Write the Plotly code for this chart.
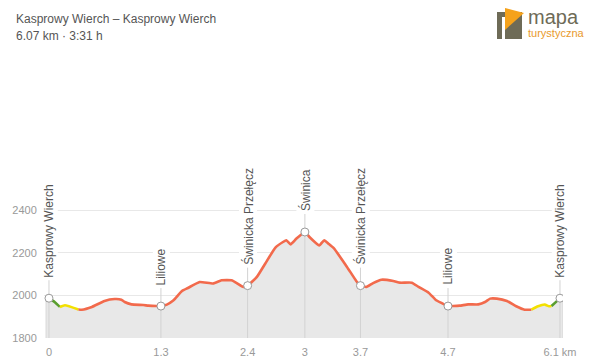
import plotly.graph_objects as go

# ---- data ----
dist = [0.00, 0.07, 0.13, 0.19, 0.35, 0.39, 0.51, 0.66, 0.78, 0.86, 0.90, 0.98, 1.12, 1.18, 1.28, 1.33,
        1.40, 1.48, 1.58, 1.65, 1.79, 1.95, 2.05, 2.17, 2.23, 2.31, 2.36, 2.47, 2.57, 2.69, 2.78,
        2.82, 2.87, 2.94, 3.04, 3.10, 3.21, 3.27, 3.32, 3.38, 3.54, 3.65, 3.70, 3.77, 3.85, 3.95,
        4.09, 4.17, 4.31, 4.39, 4.51, 4.60, 4.70, 4.74, 4.80, 4.88, 4.98, 5.10, 5.18, 5.24, 5.32,
        5.44, 5.55, 5.65, 5.73, 5.81, 5.89, 5.94, 5.97, 6.03, 6.07]
elev = [1987, 1968, 1946, 1954, 1934, 1933, 1946, 1974, 1983, 1980, 1969, 1958, 1955, 1952, 1950, 1950,
        1957, 1977, 2021, 2035, 2063, 2056, 2071, 2071, 2058, 2040, 2046, 2087, 2150, 2225, 2251,
        2259, 2240, 2267, 2298, 2272, 2235, 2259, 2243, 2223, 2134, 2068, 2046, 2040, 2058, 2074,
        2068, 2060, 2060, 2040, 2013, 1977, 1957, 1950, 1950, 1952, 1958, 1958, 1969, 1985, 1985,
        1974, 1949, 1933, 1933, 1949, 1957, 1949, 1950, 1972, 1987]

seg_bounds = [0.00, 0.13, 0.35, 5.73, 5.97, 6.07]
seg_levels = ["easy", "medium", "hard", "medium", "easy"]

wp_names = ["Kasprowy Wierch", "Liliowe", "Świnicka Przełęcz", "Świnica",
            "Świnicka Przełęcz", "Liliowe", "Kasprowy Wierch"]
wp_dist = [0.00, 1.33, 2.36, 3.04, 3.70, 4.74, 6.07]
wp_elev = [1987, 1950, 2046, 2298, 2046, 1950, 1987]
tick_text = ["0", "1.3", "2.4", "3", "3.7", "4.7", "6.1 km"]
y_ticks = [1800, 2000, 2200, 2400]

title1 = "Kasprowy Wierch – Kasprowy Wierch"
title2 = "6.07 km · 3:31 h"

# ---- style ----
level_colors = {"easy": "#5a9e2f", "medium": "#f3e000", "hard": "#f26a4c"}
FONT = "Liberation Sans, Arial, sans-serif"
W, H = 600, 362
ML, MR, MT, MB = 44, 37, 160, 24
PW, PH = W - ML - MR, H - MT - MB
YMIN = 1800
M_PER_PX = 4.698
YMAX = YMIN + PH * M_PER_PX
XMIN, XMAX = -0.059, 6.106
pad = 0.035

def px(x, y):
    return (x - ML) / PW, (H - MB - y) / PH

fig = go.Figure()

# area fill
fx = [dist[0] - pad, dist[0] - pad] + dist + [dist[-1] + pad, dist[-1] + pad]
fy = [YMIN, elev[0]] + elev + [elev[-1], YMIN]
fig.add_trace(go.Scatter(x=fx, y=fy, mode="lines", fill="toself", fillcolor="#e8e8e8",
                         line=dict(color="#d9d9d9", width=1), hoverinfo="skip", showlegend=False))

# waypoint vertical lines
vx, vy = [], []
for d, e in zip(wp_dist, wp_elev):
    vx += [d, d, None]
    vy += [YMIN, e + 18 * M_PER_PX, None]
fig.add_trace(go.Scatter(x=vx, y=vy, mode="lines", line=dict(color="#d2d2d2", width=1),
                         hoverinfo="skip", showlegend=False))

# profile segments
for i, lvl in enumerate(seg_levels):
    a, b = seg_bounds[i], seg_bounds[i + 1]
    sx = [d for d in dist if a - 1e-9 <= d <= b + 1e-9]
    sy = [e for d, e in zip(dist, elev) if a - 1e-9 <= d <= b + 1e-9]
    fig.add_trace(go.Scatter(x=sx, y=sy, mode="lines",
                             line=dict(color=level_colors[lvl], width=2.6, shape="spline", smoothing=0.4),
                             hoverinfo="skip", showlegend=False))

# waypoint markers
fig.add_trace(go.Scatter(x=wp_dist, y=wp_elev, mode="markers",
                         marker=dict(size=8, color="white", line=dict(color="#999999", width=1)),
                         hoverinfo="skip", showlegend=False))

# waypoint labels
for n, d, e in zip(wp_names, wp_dist, wp_elev):
    fig.add_annotation(x=d, y=e, text=n, textangle=-90, showarrow=False,
                       xanchor="center", yanchor="bottom", yshift=19,
                       bgcolor="white", borderpad=1,
                       font=dict(family=FONT, size=12, color="#555555"))

# title
x0, y0 = px(14, 19)
fig.add_annotation(xref="paper", yref="paper", x=x0, y=y0, text=title1, showarrow=False,
                   xanchor="left", yanchor="middle", font=dict(family=FONT, size=12, color="#555555"))
x0, y0 = px(14, 36)
fig.add_annotation(xref="paper", yref="paper", x=x0, y=y0, text=title2, showarrow=False,
                   xanchor="left", yanchor="middle", font=dict(family=FONT, size=12, color="#555555"))

# logo
def rect(x1, y1, x2, y2, color):
    a1, b1 = px(x1, y1)
    a2, b2 = px(x2, y2)
    fig.add_shape(type="rect", xref="paper", yref="paper", x0=a1, y0=b2, x1=a2, y1=b1,
                  fillcolor=color, line=dict(width=0), layer="above")

rect(497, 12, 522, 39, "#6e6b57")
rect(502, 17, 505, 39, "white")
p1 = px(505, 8); p2 = px(524, 13); p3 = px(505, 30)
fig.add_shape(type="path", xref="paper", yref="paper",
              path=f"M {p1[0]},{p1[1]} L {p2[0]},{p2[1]} L {p3[0]},{p3[1]} Z",
              fillcolor="#f5a21b", line=dict(width=0), layer="above")
x0, y0 = px(527, 17)
fig.add_annotation(xref="paper", yref="paper", x=x0, y=y0, text="mapa", showarrow=False,
                   xanchor="left", yanchor="middle", borderpad=0,
                   font=dict(family=FONT, size=20, color="#6e6b57"))
x0, y0 = px(527, 33)
fig.add_annotation(xref="paper", yref="paper", x=x0, y=y0, text="turystyczna", showarrow=False,
                   xanchor="left", yanchor="middle", borderpad=0,
                   font=dict(family=FONT, size=11, color="#e99a2c"))

fig.update_layout(
    width=W, height=H, margin=dict(l=ML, r=MR, t=MT, b=MB, autoexpand=False),
    paper_bgcolor="white", plot_bgcolor="white", showlegend=False,
    font=dict(family=FONT, size=11, color="#999999"),
    xaxis=dict(range=[XMIN, XMAX], tickvals=wp_dist, ticktext=tick_text, showgrid=False,
               zeroline=False, showline=False, ticks="outside", ticklen=4, automargin=False,
               tickcolor="rgba(0,0,0,0)", tickfont=dict(size=11, color="#999999"), fixedrange=True),
    yaxis=dict(range=[YMIN, YMAX], tickvals=y_ticks, showgrid=True, gridcolor="#e8e8e8",
               zeroline=False, showline=False, ticks="outside", ticklen=4, automargin=False,
               tickcolor="rgba(0,0,0,0)", tickfont=dict(size=11, color="#999999"), fixedrange=True),
)

fig.write_html("out.html", config={"displayModeBar": False},
               post_script="document.body.style.margin='0';document.body.style.padding='0';")
